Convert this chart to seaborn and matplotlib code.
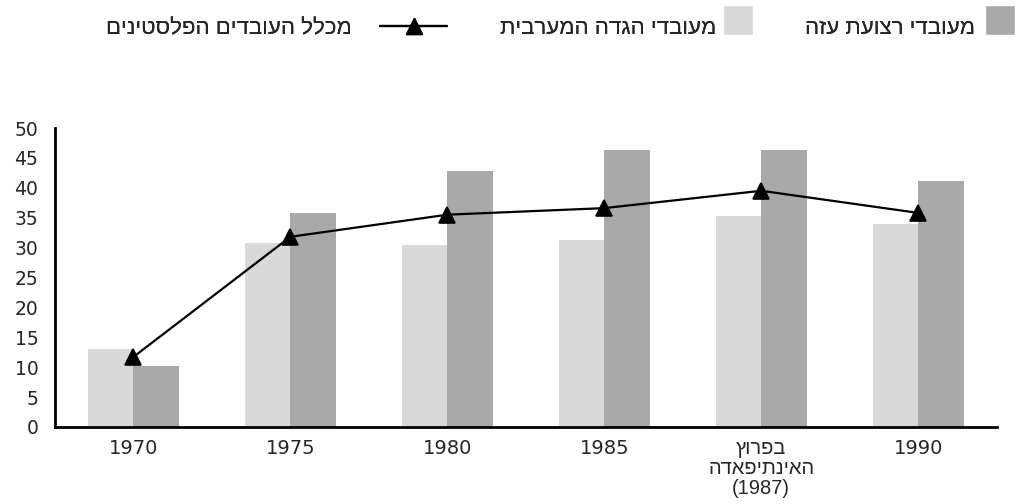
"""Palestinian workers bar + line chart (Hebrew labels)"""

import pandas as pd
import seaborn as sns
import matplotlib.pyplot as plt
from matplotlib.patches import Patch, Rectangle
from matplotlib.lines import Line2D
from matplotlib.legend_handler import HandlerPatch


def rtl(text):
    # matplotlib has no bidi support: reverse only the Hebrew lines
    out = []
    for line in text.split("\n"):
        has_hebrew = any("\u0590" <= ch <= "\u05ff" for ch in line)
        out.append(line[::-1] if has_hebrew else line)
    return "\n".join(out)


# Data
categories = ["1970", "1975", "1980", "1985", "בפרוץ\nהאינתיפאדה\n(1987)", "1990"]
west_bank = [13.0, 30.8, 30.4, 31.3, 35.3, 34.0]
gaza = [10.2, 35.8, 42.8, 46.3, 46.3, 41.1]
all_workers = [11.7, 31.8, 35.5, 36.6, 39.5, 35.8]

label_wb = "מעובדי הגדה המערבית"
label_gaza = "מעובדי רצועת עזה"
label_all = "מכלל העובדים הפלסטינים"

cat_labels = [rtl(c) for c in categories]
df = pd.DataFrame({
    "cat": cat_labels * 2,
    "value": west_bank + gaza,
    "group": ["wb"] * len(categories) + ["gaza"] * len(categories),
})

sns.set_style("white")
plt.rcParams["font.family"] = ["DejaVu Sans"]
HEB = ["Liberation Sans", "DejaVu Sans"]

fig = plt.figure(figsize=(10.17, 5.04), dpi=100)
ax = fig.add_axes([0.054, 0.153, 0.926, 0.593])

light, dark = "#d9d9d9", "#a9a9a9"
sns.barplot(data=df, x="cat", y="value", hue="group", hue_order=["wb", "gaza"],
            order=cat_labels, palette=[light, dark], width=0.58, gap=0,
            saturation=1, linewidth=0, legend=False, ax=ax)
sns.pointplot(x=cat_labels, y=all_workers, order=cat_labels, color="black",
              markers="^", markersize=11, linewidth=1.6, ax=ax)

ax.set_ylim(0, 50)
ax.set_xlim(-0.5, len(categories) - 0.5)
ax.set_yticks(range(0, 51, 5))
ax.set_xlabel("")
ax.set_ylabel("")

# major ticks on category boundaries, labels on centres
ax.set_xticks([i - 0.5 for i in range(len(categories) + 1)])
ax.set_xticklabels([])
ax.set_xticks(range(len(categories)), minor=True)
ax.set_xticklabels(cat_labels, minor=True, fontsize=14)
for lab in ax.get_xticklabels(minor=True):
    if "\n" in lab.get_text():
        lab.set_fontfamily(HEB)
        lab.set_fontsize(14.5)
        lab.set_linespacing(1.05)
ax.tick_params(axis="x", which="major", direction="out", length=10, width=2, color="black")
ax.tick_params(axis="x", which="minor", length=0, pad=9)
ax.tick_params(axis="y", direction="out", length=8, width=2, color="black", labelsize=13.5, pad=4)

sns.despine(ax=ax, top=True, right=True)
for side in ["left", "bottom"]:
    ax.spines[side].set_linewidth(2)
    ax.spines[side].set_color("black")


def square(legend, orig_handle, xdescent, ydescent, width, height, fontsize):
    side = 21.6  # 30 px square sitting on the text baseline
    return Rectangle((-xdescent, -ydescent - 0.7), side, side)


# legend: one entry per legend, laid out right-to-left like the original
entries = [
    (Line2D([], [], color="black", lw=1.6, marker="^", markersize=11), label_all, 447, 3.0, 1.3),
    (Patch(facecolor=light), label_wb, 753, 1.35, 0.3),
    (Patch(facecolor=dark), label_gaza, 1015, 1.35, 0.45),
]
for handle, text, right_px, hl, pad in entries:
    leg = fig.legend([handle], [rtl(text)], markerfirst=False, frameon=False,
                     loc="upper right", bbox_to_anchor=(right_px / 1017, 1 - 18 / 504),
                     prop={"family": HEB, "size": 16}, handlelength=hl, handleheight=0.7,
                     handletextpad=pad, borderpad=0, borderaxespad=0,
                     handler_map={Patch: HandlerPatch(patch_func=square)})
    fig.add_artist(leg)

fig.savefig("out.png", dpi=100)
